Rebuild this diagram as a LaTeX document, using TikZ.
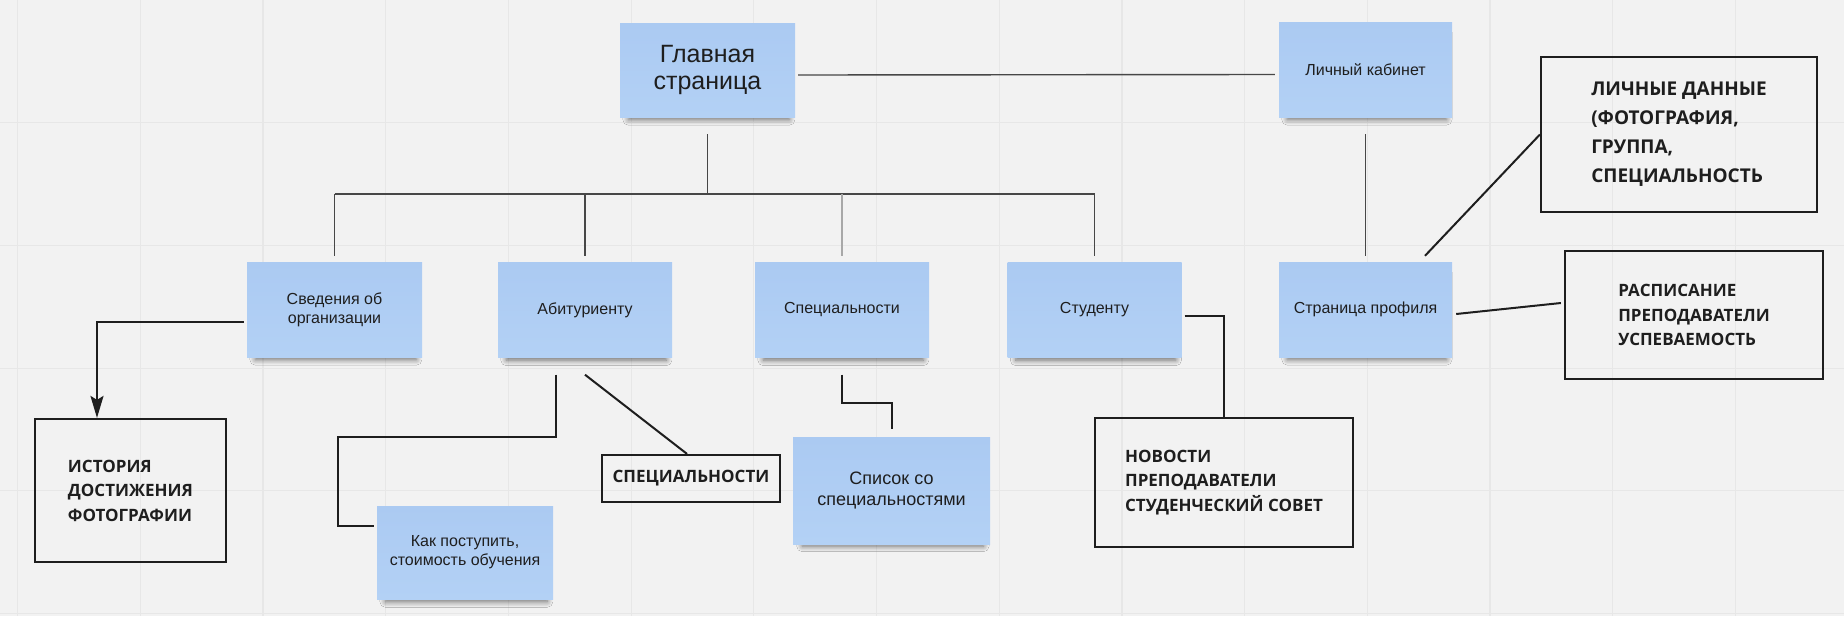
\documentclass[tikz,border=0pt]{standalone}
\usepackage{fontspec}
\setmainfont{Liberation Sans}
\newfontfamily\panelfont{Open Sans}
\usetikzlibrary{
  arrows.meta,
  shadows.blur
}
\definecolor{bggray}{HTML}{F2F2F2}
\definecolor{gridgray}{HTML}{E7E7E7}
\definecolor{notetop}{HTML}{ABCAF2}
\definecolor{notebottom}{HTML}{B3D1F5}
\definecolor{treegray}{HTML}{474747}
\definecolor{treelight}{HTML}{A8A8A8}
\definecolor{inkblack}{HTML}{1E1E1E}

\begin{document}
\begin{tikzpicture}[
      x=1pt,y=-1pt,
      note/.style={
         rectangle,
         inner sep=0pt,
         minimum width=174pt,
         minimum height=95pt,
         top color=notetop,
         bottom color=notebottom,
         align=center,
         text=inkblack,
         font=\fontsize{16}{19}\selectfont,
         blur shadow={shadow xshift=1.5pt,shadow yshift=-7pt,
            shadow scale=0.92,
            shadow opacity=55,shadow blur radius=6pt,
            shadow blur steps=8}
      },
      panel/.style={
         rectangle,
         inner sep=0pt,
         line width=2.2pt,
         draw=inkblack,
         align=left,
         text=inkblack,
         font=\panelfont\bfseries\fontsize{17}{24.5}\selectfont
      },
      grid line/.style={draw=gridgray,line width=1.2pt},
      tree/.style={draw=treegray,line width=1.4pt},
      link/.style={draw=inkblack,line width=2pt},
      tip/.style={-{Stealth[length=22pt,width=13pt,inset=4pt]}}
    ]
    \useasboundingbox (0,0) rectangle (1844,616);
    \fill[bggray] (0,0) rectangle (1844,616);
    \foreach \gx in {0,...,14}
       \draw[grid line] ({17.6+122.7*\gx},0) -- ++(0,616);
    \foreach \gy in {1,...,5}
       \draw[grid line] (0,{122.7*\gy}) -- ++(1844,0);

    % first row
    \node (n11) [note, minimum width=175pt, minimum height=94pt,
       font=\fontsize{25}{27}\selectfont] at (707.5,70) {Главная\\страница};
    \node (n12) [note, minimum width=173pt] at (1365.5,69.5) {Личный кабинет};
    \node (n13) [panel, minimum width=276pt, minimum height=155pt,
       font=\panelfont\bfseries\fontsize{19}{29}\selectfont] at (1679,134.5)
       {ЛИЧНЫЕ ДАННЫЕ\\(ФОТОГРАФИЯ,\\ГРУППА,\\СПЕЦИАЛЬНОСТЬ};
    % second row
    \node (n21) [note, minimum width=175pt] at (334.5,309.5) {Сведения об\\организации};
    \node (n22) [note] at (585,310) {Абитуриенту};
    \node (n23) [note] at (842,310) {Специальности};
    \node (n24) [note] at (1094.5,310) {Студенту};
    \node (n25) [note, minimum width=173pt] at (1365.5,309.5) {Страница профиля};
    \node (n26) [panel, minimum width=258pt, minimum height=128pt] at (1694,315)
       {РАСПИСАНИЕ\\ПРЕПОДАВАТЕЛИ\\УСПЕВАЕМОСТЬ};
    % third row
    \node (n31) [panel, minimum width=191pt, minimum height=143pt] at (130.5,490.5)
       {ИСТОРИЯ\\ДОСТИЖЕНИЯ\\ФОТОГРАФИИ};
    \node (n32) [panel, minimum width=178pt, minimum height=47pt] at (691,478.5)
       {СПЕЦИАЛЬНОСТИ};
    \node (n33) [note, minimum width=176pt, minimum height=93pt] at (465,552.5)
       {Как поступить,\\стоимость обучения};
    \node (n34) [note, minimum width=197pt, minimum height=107pt,
       font=\fontsize{18}{21}\selectfont] at (891.5,490.5) {Список со\\специальностями};
    \node (n35) [panel, minimum width=258pt, minimum height=129pt] at (1224,482.5)
       {НОВОСТИ\\ПРЕПОДАВАТЕЛИ\\СТУДЕНЧЕСКИЙ СОВЕТ};

    % tree below the main page
    \coordinate (bus) at (707.5,194);
    \draw[tree] ([yshift=-17pt]n11.south) -- (n11.south |- bus);
    \draw[tree] (n21.north |- bus) -- (n24.north |- bus);
    \foreach \n in {n21,n22,n24}
       \draw[tree] (\n.north |- bus) -- ([yshift=6pt]\n.north);
    \draw[tree,draw=treelight] (n23.north |- bus) -- ([yshift=6pt]n23.north);
    \draw[tree] ([xshift=3pt,yshift=-5pt]n11.east) -- ([xshift=-4pt,yshift=-5pt]n12.west);
    \draw[tree,line width=1pt] ([yshift=-17pt]n12.south) -- ([yshift=6pt]n25.north);

    % links to the detail boxes
    \draw[link,tip] ([xshift=-3pt,yshift=-12.5pt]n21.west) -| ([xshift=-33.5pt]n31.north);
    \draw[link] ([xshift=-29pt,yshift=-17pt]n22.south) -- ++(0,62)
       -| ([xshift=-39pt,yshift=26.5pt]n33.west) -- ([xshift=-3pt,yshift=26.5pt]n33.west);
    \draw[link] ([yshift=-17pt]n22.south) -- ([xshift=-4pt]n32.north);
    \draw[link] ([yshift=-17pt]n23.south) -- ++(0,28) -| ([yshift=8pt]n34.north);
    \draw[link] ([xshift=3pt,yshift=-5.5pt]n24.east) -| (n35.north);
    \draw[link] ([xshift=59.5pt,yshift=6pt]n25.north) -- (n13.west);
    \draw[link] ([xshift=4pt,yshift=-4.5pt]n25.east) -- ([xshift=-3pt,yshift=12pt]n26.west);
\end{tikzpicture}
\end{document}
